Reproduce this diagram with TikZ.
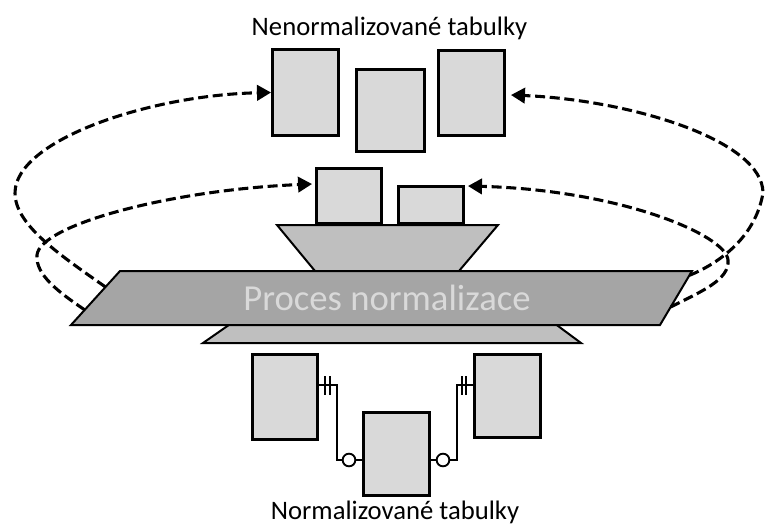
\documentclass[tikz,border=0pt]{standalone}
\usepackage{fontspec}
\setmainfont{Carlito}
\usetikzlibrary{arrows.meta,calc}
\definecolor{boxgray}{HTML}{D9D9D9}
\definecolor{trapgray}{HTML}{BFBFBF}
\definecolor{bandgray}{HTML}{A5A5A5}
\definecolor{labelgray}{HTML}{D9D9D9}
\begin{document}
\begin{tikzpicture}[x=0.75pt,y=-0.75pt,
  tbl/.style={draw=black, fill=boxgray, line width=2.2pt, inner sep=0pt},
  flow/.style={draw=black, line width=2.3pt, dash pattern=on 7.5pt off 3.5pt,
    -{Triangle[length=10.5pt,width=11.5pt]}},
  plate/.style={draw=black, line width=1.5pt, line join=miter},
  link/.style={draw=black, line width=1.9pt},
  tickmark/.style={draw=black, line width=1.6pt},
  optc/.style={circle, draw=black, fill=white, line width=1.4pt,
    minimum size=9.5pt, inner sep=0pt},
  caption/.style={font=\fontsize{20}{24}\selectfont, anchor=base}]

\useasboundingbox (0,0) rectangle (765,526);

% --- process band with its two plates ---
\coordinate (pTL) at (120,271);
\coordinate (pTR) at (692,271);
\coordinate (pBR) at (660,325);
\coordinate (pBL) at (71,325);

\filldraw[plate, fill=trapgray] (277,225) -- (498,225) -- (455.6,275) -- (318.3,275) -- cycle;
\filldraw[plate, fill=trapgray] (236,320) -- (550,320) -- (581,343) -- (203,343) -- cycle;
\filldraw[plate, fill=bandgray] (pTL) -- (pTR) -- (pBR) -- (pBL) -- cycle;
\node[text=labelgray, font=\fontsize{27.5}{32}\selectfont, anchor=base] (proc)
  at (387,310) {Proces normalizace};

% --- unnormalised tables ---
\node[caption] (topcap) at (389.5,35) {Nenormalizované tabulky};
\node[tbl, minimum width=66*0.75pt, minimum height=86*0.75pt] (A) at (305.5,92.5) {};
\node[tbl, minimum width=68*0.75pt, minimum height=82*0.75pt] (B) at (390.5,110.5) {};
\node[tbl, minimum width=66*0.75pt, minimum height=85*0.75pt] (C) at (471.5,93) {};

% --- tables sitting on the upper plate ---
\node[tbl, minimum width=65*0.75pt, minimum height=55*0.75pt] (D) at (349,196) {};
\node[tbl, minimum width=65*0.75pt, minimum height=37*0.75pt] (E) at (431,205) {};

% --- normalised tables ---
\node[tbl, minimum width=65*0.75pt, minimum height=85*0.75pt] (F) at (285,397) {};
\node[tbl, minimum width=66*0.75pt, minimum height=83*0.75pt] (G) at (396.5,454) {};
\node[tbl, minimum width=66*0.75pt, minimum height=83*0.75pt] (H) at (507.5,396) {};
\node[caption] (botcap) at (395,519) {Normalizované tabulky};

% --- relationship lines between normalised tables ---
\coordinate (lA) at ($(F.east)+(0,-12)$);
\coordinate (lK) at (337,460);
\coordinate (rA) at ($(H.west)+(0,-11)$);
\coordinate (rK) at (457,460);
\draw[link] (lA) -| (lK) -- (G.west |- lK);
\draw[link] (rA) -| (rK) -- (G.east |- rK);
\draw[tickmark] ($(lA)+(6,-9)$) -- ($(lA)+(6,10)$);
\draw[tickmark] ($(lA)+(11,-9)$) -- ($(lA)+(11,10)$);
\draw[tickmark] ($(rA)+(-7,-9)$) -- ($(rA)+(-7,10)$);
\draw[tickmark] ($(rA)+(-11,-9)$) -- ($(rA)+(-11,10)$);
\node[optc] (lo) at (349,460) {};
\node[optc] (ro) at (443,460) {};

% --- dashed feedback loops from the band to the tables ---
\coordinate (sLo) at ($(pTL)!0.296!(pBL)$);
\coordinate (sLi) at ($(pTL)!0.72!(pBL)$);
\coordinate (sRo) at ($(pTR)!0.08!(pBR)$);
\coordinate (sRi) at ($(pTR)!0.667!(pBR)$);

\draw[flow] (sLo) .. controls (60,255) and (15,225) .. (15,193)
  .. controls (15,140) and (150,95) .. (A.west);
\draw[flow] (sLi) .. controls (60,293) and (35,275) .. (37,255)
  .. controls (40,225) and (170,190) .. ($(D.west)+(-3,-12)$);
\draw[flow] (sRo) .. controls (715,265) and (755,240) .. (763,193)
  .. controls (763,140) and (630,100) .. ($(C.east)+(5,2)$);
\draw[flow] (sRi) .. controls (700,292) and (730,280) .. (728,260)
  .. controls (726,235) and (620,190) .. ($(E.east)+(3,-19)$);

\end{tikzpicture}
\end{document}
